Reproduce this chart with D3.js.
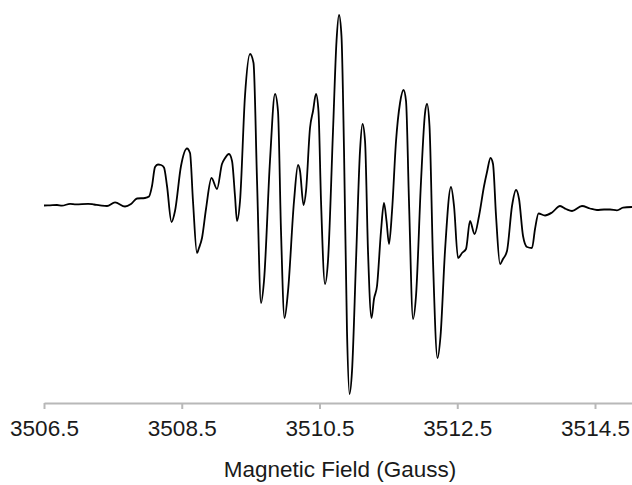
<!DOCTYPE html>
<html>
<head>
<meta charset="utf-8">
<script src="https://cdn.jsdelivr.net/npm/d3@7"></script>
<style>
  html, body { margin: 0; padding: 0; background: #fff; }
  svg { display: block; }
  text { font-family: "Liberation Sans", Arial, Helvetica, sans-serif; fill: #1a1a1a; }
</style>
</head>
<body>
<svg id="chart" width="632" height="485"></svg>
<script>
// Magnetic field (Gauss) sample positions
const field = [
  3506.500, 3506.587, 3506.689, 3506.761, 3506.878, 3506.965, 3507.139, 3507.226, 3507.313, 3507.415,
  3507.531, 3507.676, 3507.763, 3507.850, 3507.966, 3508.025, 3508.068, 3508.112, 3508.155, 3508.199,
  3508.242, 3508.286, 3508.351, 3508.402, 3508.489, 3508.576, 3508.620, 3508.663, 3508.721, 3508.750,
  3508.794, 3508.852, 3508.932, 3509.012, 3509.084, 3509.121, 3509.186, 3509.230, 3509.273, 3509.302,
  3509.346, 3509.418, 3509.491, 3509.542, 3509.593, 3509.651, 3509.694, 3509.781, 3509.854, 3509.897,
  3509.941, 3509.992, 3510.043, 3510.130, 3510.188, 3510.217, 3510.268, 3510.304, 3510.362, 3510.406,
  3510.449, 3510.485, 3510.522, 3510.580, 3510.623, 3510.696, 3510.747, 3510.783, 3510.819, 3510.856,
  3510.899, 3510.936, 3510.972, 3511.030, 3511.088, 3511.124, 3511.161, 3511.204, 3511.255, 3511.291,
  3511.335, 3511.393, 3511.436, 3511.473, 3511.509, 3511.553, 3511.611, 3511.669, 3511.720, 3511.756,
  3511.799, 3511.858, 3511.901, 3511.974, 3512.032, 3512.061, 3512.097, 3512.148, 3512.213, 3512.257,
  3512.322, 3512.409, 3512.453, 3512.511, 3512.569, 3512.627, 3512.685, 3512.751, 3512.816, 3512.889,
  3512.932, 3512.983, 3513.019, 3513.063, 3513.121, 3513.164, 3513.222, 3513.295, 3513.353, 3513.397,
  3513.455, 3513.513, 3513.585, 3513.629, 3513.680, 3513.774, 3513.876, 3513.992, 3514.079, 3514.166,
  3514.311, 3514.427, 3514.529, 3514.631, 3514.718, 3514.819, 3514.907, 3515.037
];
// EPR first-derivative signal (arbitrary units) at those positions
const signal = [
  0.5, 0.7, 1, 0.3, 2.2, 1.6, 2.2, 1.5, 0.7, 0,
  3.7, -0.5, 2, 7.5, 8, 9.5, 20, 39, 41.5, 41,
  38.5, 20, -16, -5, 40, 57.5, 53, 5, -47, -42,
  -32, -3, 28, 17, 42, 47, 52, 45, 10, -15,
  5, 110, 152, 143, 25, -97, -75, 45, 112, 95,
  -25, -112, -85, 5, 41, 35, 1, 15, 78, 95,
  112, 95, 5, -78, -55, 75, 165, 191, 170, 55,
  -125, -188, -165, -55, 55, 82, 65, -45, -112, -93,
  -80, -25, 3, -15, -38, -5, 65, 103, 116, 105,
  5, -113, -90, 25, 93, 102, 80, -55, -152, -130,
  -45, 19, 0, -52, -47, -43, -15, -28, -10, 20,
  34, 48, 42, -10, -58, -53, -45, 0, 16, 7,
  -30, -41, -42, -23, -7.5, -9.5, -6.5, 0, -3, -5,
  0, -2.5, -4, -3.5, -3.5, -4.3, -1.7, -1
];
const tickValues = [3506.5, 3508.5, 3510.5, 3512.5, 3514.5];
const tickLabels = ["3506.5", "3508.5", "3510.5", "3512.5", "3514.5"];
const xTitle = "Magnetic Field (Gauss)";

const svg = d3.select("#chart");
const axisY = 403;

const x = d3.scaleLinear().domain([3506.5, 3515.037]).range([44, 632]);
const y = d3.scaleLinear().domain([-188, 191]).range([394, 15]);

const pts = field.map((f, i) => [f, signal[i]]);
const line = d3.line()
  .x(d => x(d[0]))
  .y(d => y(d[1]))
  .curve(d3.curveMonotoneX);

svg.append("path")
  .datum(pts)
  .attr("d", line)
  .attr("fill", "none")
  .attr("stroke", "#000")
  .attr("stroke-width", 1.8)
  .attr("stroke-linejoin", "round");

const axis = d3.axisBottom(x)
  .tickValues(tickValues)
  .tickFormat((d, i) => tickLabels[i])
  .tickSize(6)
  .tickPadding(11)
  .tickSizeOuter(0);

const gx = svg.append("g")
  .attr("transform", `translate(0,${axisY})`)
  .call(axis);
gx.select(".domain").attr("stroke", "#b8b8b8").attr("stroke-width", 2);
gx.selectAll(".tick line").attr("stroke", "#b8b8b8").attr("stroke-width", 2);
gx.selectAll(".tick text")
  .attr("font-size", 22.5)
  .style("font-family", '"Liberation Sans", Arial, sans-serif')
  .attr("fill", "#1a1a1a");

svg.append("text")
  .attr("x", 340)
  .attr("y", 477)
  .attr("text-anchor", "middle")
  .attr("font-size", 22.5)
  .text(xTitle);
</script>
</body>
</html>
